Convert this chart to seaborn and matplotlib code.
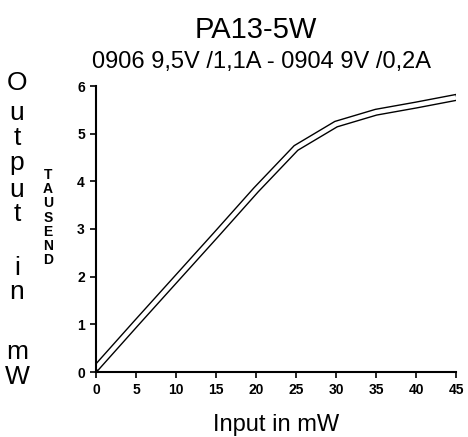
import numpy as np
import pandas as pd
import matplotlib.pyplot as plt
import seaborn as sns

# Values (output in thousands of mW)
input_mw = [0, 5, 10, 15, 20, 25, 30, 35, 40, 45]
output_k = [0.08, 1.02, 1.95, 2.88, 3.82, 4.70, 5.20, 5.45, 5.60, 5.76]
x_ticks = [0, 5, 10, 15, 20, 25, 30, 35, 40, 45]
y_ticks = [0, 1, 2, 3, 4, 5, 6]

df = pd.DataFrame({'input': input_mw, 'output': output_k})

sns.set_style('white')
plt.rcParams['font.family'] = ['Liberation Sans', 'DejaVu Sans']
plt.rcParams['text.color'] = 'black'
plt.rcParams['xtick.color'] = 'black'
plt.rcParams['ytick.color'] = 'black'

W, H = 468, 437
fig = plt.figure(figsize=(W / 100, H / 100), dpi=100)
ax = fig.add_axes([96 / W, 1 - 372 / H, (456 - 96) / W, (372 - 86) / H])

# outlined ("hollow") curve: black line with a thinner white one on top
sns.lineplot(data=df, x='input', y='output', ax=ax, color='black', lw=5.2,
             solid_capstyle='projecting', solid_joinstyle='miter')
sns.lineplot(data=df, x='input', y='output', ax=ax, color='white', lw=3.2,
             solid_capstyle='butt', solid_joinstyle='miter')

ax.set_xlim(0, 45)
ax.set_ylim(0, 6)
ax.set_xticks(x_ticks)
ax.set_yticks(y_ticks)
ax.set_xticklabels([str(t) for t in x_ticks], fontsize=10, fontweight='bold')
ax.set_yticklabels([str(t) for t in y_ticks], fontsize=10, fontweight='bold')
ax.tick_params(bottom=True, left=True, direction='out', length=4, width=1.2,
               color='black', labelcolor='black', pad=4)
ax.set_xlabel('')
ax.set_ylabel('')
for s in ['top', 'right']:
    ax.spines[s].set_visible(False)
for s in ['left', 'bottom']:
    ax.spines[s].set_color('black')
    ax.spines[s].set_linewidth(1.5)

# titles
fig.text(256 / W, 1 - 30 / H, 'PA13-5W', ha='center', va='center', fontsize=21)
fig.text(262 / W, 1 - 62 / H, '0906 9,5V /1,1A - 0904 9V /0,2A',
         ha='center', va='center', fontsize=17)
fig.text(276 / W, 1 - 425 / H, 'Input in mW', ha='center', va='center', fontsize=17)

# stacked y label
letters = ['O', 'u', 't', 'p', 'u', 't', 'i', 'n', 'm', 'W']
ypix = [83, 113, 138, 163, 190, 214, 268, 292, 352, 377]
for ch, yp in zip(letters, ypix):
    fig.text(17 / W, 1 - yp / H, ch, ha='center', va='center', fontsize=19)

tausend = list('TAUSEND')
for i, ch in enumerate(tausend):
    fig.text(48 / W, 1 - (175 + i * 14.2) / H, ch, ha='center', va='center',
             fontsize=10, fontweight='bold')

plt.savefig('out.png', dpi=100)
